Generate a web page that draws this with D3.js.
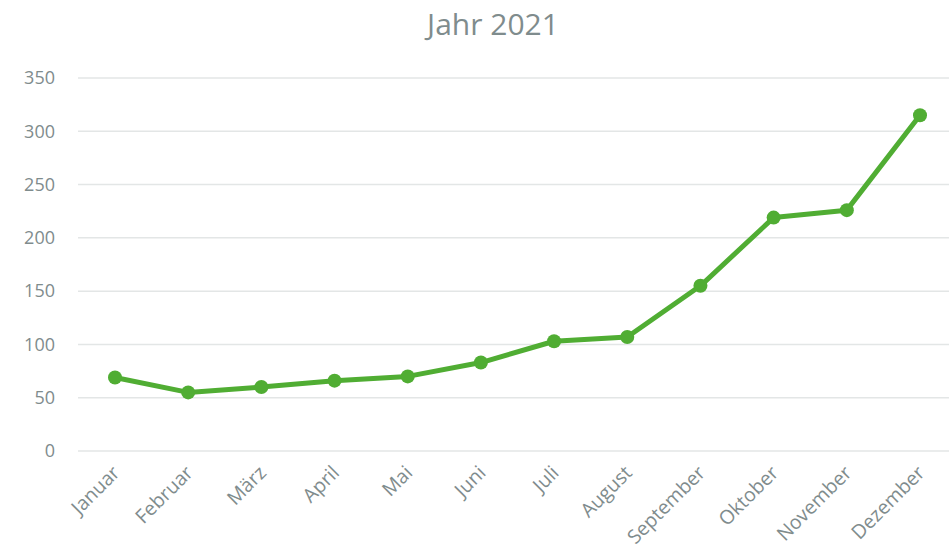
<!DOCTYPE html>
<html>
<head>
<meta charset="utf-8">
<script src="https://cdn.jsdelivr.net/npm/d3@7"></script>
<style>
  body { margin: 0; background: #fff; }
  text { font-family: "Open Sans", sans-serif; fill: #7f8c8d; }
</style>
</head>
<body>
<div id="chart"></div>
<script>
const months = ["Januar", "Februar", "März", "April", "Mai", "Juni", "Juli", "August", "September", "Oktober", "November", "Dezember"];
const values = [69, 55, 60, 66, 70, 83, 103, 107, 155, 219, 226, 315];
const yTicks = [0, 50, 100, 150, 200, 250, 300, 350];

const width = 949, height = 560;
const svg = d3.select("#chart").append("svg")
  .attr("width", width)
  .attr("height", height);

const x = d3.scalePoint().domain(months).range([115, 920]);
const y = d3.scaleLinear().domain([0, 350]).range([451, 78]);

svg.append("text")
  .attr("x", 493)
  .attr("y", 35)
  .attr("text-anchor", "middle")
  .style("font-size", "30px")
  .text("Jahr 2021");

// gridlines
svg.append("g")
  .selectAll("line")
  .data(yTicks)
  .join("line")
  .attr("x1", 78)
  .attr("x2", width)
  .attr("y1", d => y(d))
  .attr("y2", d => y(d))
  .attr("stroke", "#e3e6e6")
  .attr("stroke-width", 1.5);

// y labels
svg.append("g")
  .selectAll("text")
  .data(yTicks)
  .join("text")
  .attr("x", 55)
  .attr("y", d => y(d))
  .attr("dy", "0.35em")
  .attr("text-anchor", "end")
  .style("font-size", "18px")
  .text(d => d);

// x labels
svg.append("g")
  .selectAll("text")
  .data(months)
  .join("text")
  .attr("text-anchor", "end")
  .attr("transform", d => `translate(${x(d) + 6},${474}) rotate(-45)`)
  .style("font-size", "19.5px")
  .text(d => d);

const line = d3.line()
  .x((d, i) => x(months[i]))
  .y(d => y(d));

svg.append("path")
  .datum(values)
  .attr("d", line)
  .attr("fill", "none")
  .attr("stroke", "#50ad33")
  .attr("stroke-width", 5)
  .attr("stroke-linejoin", "round");

svg.append("g")
  .selectAll("circle")
  .data(values)
  .join("circle")
  .attr("cx", (d, i) => x(months[i]))
  .attr("cy", d => y(d))
  .attr("r", 7)
  .attr("fill", "#50ad33");
</script>
</body>
</html>
